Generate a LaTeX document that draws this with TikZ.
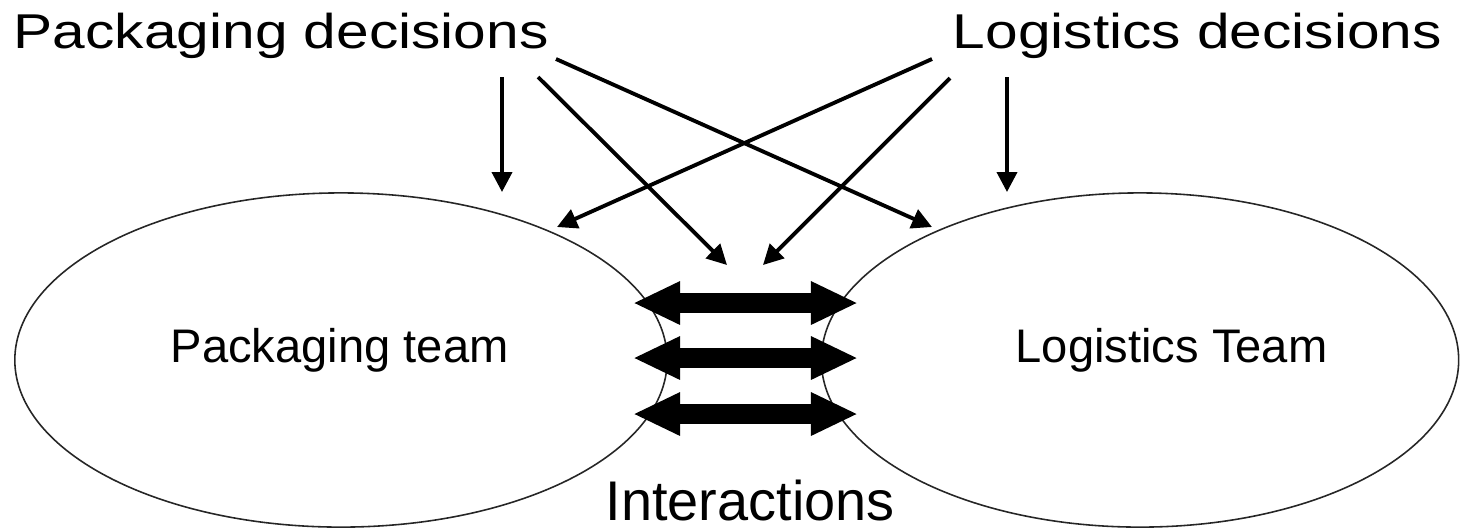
\documentclass[tikz,border=0pt]{standalone}
\usepackage{fontspec}
\setmainfont{Liberation Sans}
\usetikzlibrary{arrows.meta,shapes.geometric}
\begin{document}
\begin{tikzpicture}[x=0.01cm,y=-0.01cm,
  team/.style={ellipse, draw=black!85, line width=0.45pt, inner sep=0pt},
  heading/.style={anchor=base west, inner sep=0pt,
    font=\fontsize{13.9pt}{16pt}\selectfont, xscale=1.2},
  teamlabel/.style={anchor=base west, inner sep=0pt,
    font=\fontsize{13.4pt}{16pt}\selectfont},
  influence/.style={line width=1.1pt, -{Triangle[length=2mm,width=2mm]}},
  exchange/.style={line width=2mm,
    {Triangle[length=4.7mm,width=4mm]}-{Triangle[length=4.7mm,width=4mm]}}
]
\useasboundingbox (0,0) rectangle (1460,529);

% the two teams
\node[team, minimum width=6.52cm, minimum height=3.34cm] (pteam) at (341,360) {};
\node[team, minimum width=6.37cm, minimum height=3.34cm] (lteam) at (1140,360) {};
\node[teamlabel] (ptext) at (170,362) {Packaging team};
\node[teamlabel] (ltext) at (1015,362) {Logistics Team};

% decision headings
\node[heading] (pdec) at (13,48) {Packaging decisions};
\node[heading] (ldec) at (952,48) {Logistics decisions};

% interaction label
\node[anchor=base west, inner sep=0pt, font=\fontsize{15.9pt}{18pt}\selectfont]
  (inter) at (605,520) {Interactions};

% arrow end points
\coordinate (p1s) at (502,77);  \coordinate (p1e) at (502,192);
\coordinate (p2s) at (538,77);  \coordinate (p2e) at (727,265);
\coordinate (p3s) at (556,59);  \coordinate (p3e) at (932,227);
\coordinate (l1s) at (1007,77); \coordinate (l1e) at (1007,192);
\coordinate (l2s) at (950,78);  \coordinate (l2e) at (763,265);
\coordinate (l3s) at (932,59);  \coordinate (l3e) at (557,227);

\draw[influence] (p1s) -- (p1e);
\draw[influence] (p2s) -- (p2e);
\draw[influence] (p3s) -- (p3e);
\draw[influence] (l1s) -- (l1e);
\draw[influence] (l2s) -- (l2e);
\draw[influence] (l3s) -- (l3e);

% two-way interactions between the teams
\coordinate (ia) at (633,303); \coordinate (ib) at (858,303);
\coordinate (ic) at (633,358); \coordinate (id) at (858,358);
\coordinate (ie) at (633,414); \coordinate (if) at (858,414);
\draw[exchange] (ia) -- (ib);
\draw[exchange] (ic) -- (id);
\draw[exchange] (ie) -- (if);
\end{tikzpicture}
\end{document}
